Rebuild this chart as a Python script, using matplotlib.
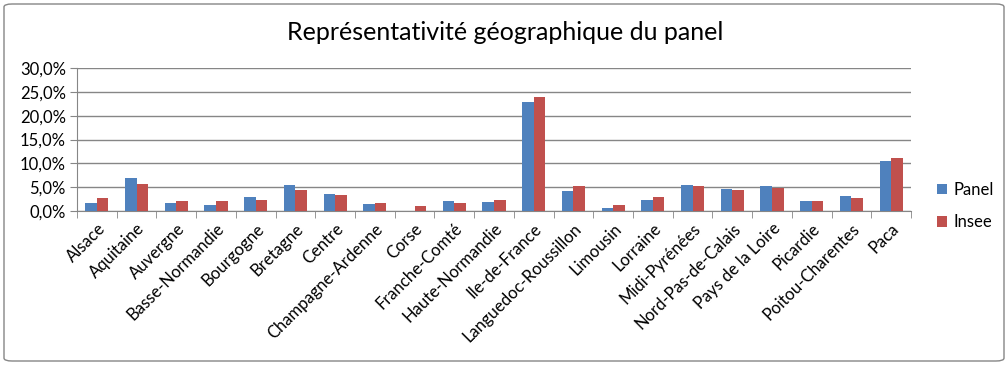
import matplotlib
matplotlib.use("Agg")
import matplotlib.pyplot as plt
import numpy as np
from matplotlib.patches import FancyBboxPatch
from matplotlib.ticker import FuncFormatter, MultipleLocator

regions = ["Alsace", "Aquitaine", "Auvergne", "Basse-Normandie", "Bourgogne",
           "Bretagne", "Centre", "Champagne-Ardenne", "Corse", "Franche-Comté",
           "Haute-Normandie", "Ile-de-France", "Languedoc-Roussillon", "Limousin",
           "Lorraine", "Midi-Pyrénées", "Nord-Pas-de-Calais", "Pays de la Loire",
           "Picardie", "Poitou-Charentes", "Paca"]
panel = [1.6, 6.9, 1.6, 1.2, 2.9, 5.4, 3.5, 1.4, 0.0, 2.0, 1.8, 22.9, 4.2, 0.6,
         2.25, 5.4, 4.6, 5.2, 2.0, 3.1, 10.5]
insee = [2.7, 5.6, 2.0, 2.0, 2.25, 4.4, 3.3, 1.6, 1.0, 1.6, 2.25, 23.9, 5.2, 1.2,
         2.95, 5.2, 4.4, 4.85, 2.0, 2.7, 11.1]
series_names = ["Panel", "Insee"]
title = "Représentativité géographique du panel"

plt.rcParams['font.family'] = ['Lato', 'DejaVu Sans']

fig = plt.figure(figsize=(10.08, 3.65), dpi=100)
W, H = 1008, 365
ax = fig.add_axes([77 / W, (H - 210.7) / H, (911 - 77) / W, (210.7 - 68.3) / H])

x = np.arange(len(regions))
bw = 0.29
ax.bar(x - bw / 2, panel, bw, color="#4F81BD", label=series_names[0], zorder=3)
ax.bar(x + bw / 2, insee, bw, color="#C0504D", label=series_names[1], zorder=3)

ax.set_xlim(-0.5, len(regions) - 0.5)
ax.set_ylim(0, 30)
ax.yaxis.set_major_locator(MultipleLocator(5))
ax.yaxis.set_major_formatter(FuncFormatter(lambda v, p: f"{v:.1f}%".replace(".", ",")))
ax.grid(axis="y", color="#868686", linewidth=1.0, zorder=0)
ax.set_axisbelow(True)

for s in ["top", "right"]:
    ax.spines[s].set_visible(False)
ax.spines["left"].set_color("#868686")
ax.spines["bottom"].set_color("#868686")

ax.set_xticks(np.arange(len(regions) + 1) - 0.5, minor=True)
ax.set_xticks(x)
ax.set_xticklabels(regions, rotation=45, ha="right", rotation_mode="anchor", fontsize=12)
ax.tick_params(axis="x", which="major", length=0, pad=7)
ax.tick_params(axis="x", which="minor", length=5, color="#868686")
ax.tick_params(axis="y", length=5, color="#868686", labelsize=12, pad=3)

fig.text(505 / W, 1 - 33 / H, title, ha="center", va="center", fontsize=18)

leg = fig.legend(loc="center left", bbox_to_anchor=(922 / W, 1 - 206 / H),
                 frameon=False, fontsize=12, handlelength=0.6, handleheight=0.6,
                 labelspacing=1.0, handletextpad=0.4)

border = FancyBboxPatch((4 / W, 4 / H), (W - 8) / W, (H - 8) / H,
                        boxstyle="round,pad=0,rounding_size=0.008",
                        transform=fig.transFigure, fill=False,
                        edgecolor="#868686", linewidth=1.0)
fig.patches.append(border)

fig.savefig("out.png", dpi=100)
